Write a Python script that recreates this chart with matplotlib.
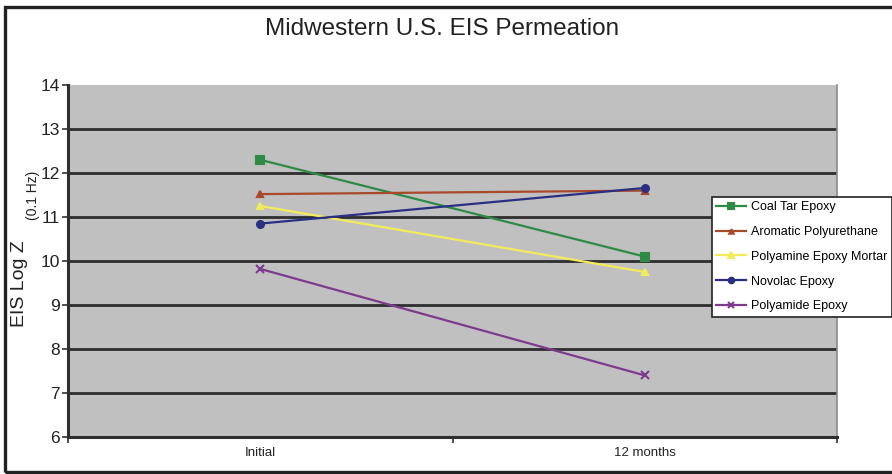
import matplotlib
matplotlib.use("Agg")
import matplotlib.pyplot as plt
from matplotlib.patches import Rectangle

plt.rcParams['font.family'] = ['Liberation Sans', 'DejaVu Sans']

categories = ["Initial", "12 months"]
series_names = ["Coal Tar Epoxy", "Aromatic Polyurethane", "Polyamine Epoxy Mortar",
                "Novolac Epoxy", "Polyamide Epoxy"]
coal_tar = [12.30, 10.10]
aromatic = [11.52, 11.60]
polyamine = [11.25, 9.75]
novolac = [10.85, 11.66]
polyamide = [9.82, 7.40]
y_ticks = [6, 7, 8, 9, 10, 11, 12, 13, 14]

colors = ["#2e8b44", "#a84a2a", "#f2ec5a", "#2b2f82", "#7d3a8e"]
markers = ["s", "^", "^", "o", "x"]
msizes = [6, 4, 5, 5, 6]

fig = plt.figure(figsize=(8.92, 4.74), dpi=100)
fig.patch.set_facecolor("white")

W, H = 892, 474
ax = fig.add_axes([68 / W, 1 - 437 / H, (837 - 68) / W, (437 - 85) / H])
ax.set_facecolor("#c0c0c0")

xpos = [0.5, 1.5]
for vals, name, c, m, ms in zip([coal_tar, aromatic, polyamine, novolac, polyamide],
                                series_names, colors, markers, msizes):
    ax.plot(xpos, vals, color=c, lw=1.6, marker=m, ms=ms, mew=1.5,
            mfc=c, mec=c, label=name, zorder=3)

ax.set_xlim(0, 2)
ax.set_ylim(6, 14)
ax.set_yticks(y_ticks)
ax.set_yticklabels([str(t) for t in y_ticks], fontsize=12.5, color="#222222")
ax.set_xticks([0, 1, 2])
ax.set_xticklabels([])
ax.set_xticks(xpos, minor=True)
ax.set_xticklabels(categories, minor=True, fontsize=9.5, color="#222222")
ax.tick_params(axis="x", which="minor", length=0, pad=7)
ax.tick_params(axis="x", which="major", length=4, width=1.2, color="#333333", direction="out")
ax.tick_params(axis="y", length=4, width=1.2, color="#333333", direction="out", pad=2)

for y in y_ticks[1:-1]:
    ax.axhline(y, color="#2e2e2e", lw=2.0, zorder=1)

ax.spines["top"].set_visible(False)
ax.spines["right"].set_color("#8a8a8a")
ax.spines["right"].set_linewidth(1.2)
ax.spines["left"].set_color("#2e2e2e")
ax.spines["left"].set_linewidth(2.2)
ax.spines["bottom"].set_color("#2e2e2e")
ax.spines["bottom"].set_linewidth(2.2)

leg = fig.legend(loc="upper left", bbox_to_anchor=(712 / W, 1 - 197 / H),
                 fontsize=9, frameon=True, fancybox=False, borderpad=0.35,
                 labelspacing=1.02, handlelength=2.4, handletextpad=0.35,
                 borderaxespad=0, markerscale=0.8)
leg.get_frame().set_edgecolor("#222222")
leg.get_frame().set_linewidth(1.2)
leg.get_frame().set_facecolor("white")
leg.get_frame().set_alpha(1)

fig.text(442 / W, 1 - 29 / H, "Midwestern U.S. EIS Permeation", ha="center",
         va="center", fontsize=17.5, color="#222222")

fig.text(19 / W, 1 - 284 / H, "EIS Log Z", rotation=90, ha="center",
         va="center", fontsize=14, color="#222222")
fig.text(33 / W, 1 - 195 / H, "(0.1 Hz)", rotation=90, ha="center",
         va="center", fontsize=10, color="#222222")

# outer frame around the chart
fig.patches.append(Rectangle((5 / W, 1 - 472 / H), 1.0, (472 - 7) / H,
                             transform=fig.transFigure, fill=False,
                             edgecolor="#222222", lw=2.4, zorder=10))

fig.savefig("out.png", dpi=100)
